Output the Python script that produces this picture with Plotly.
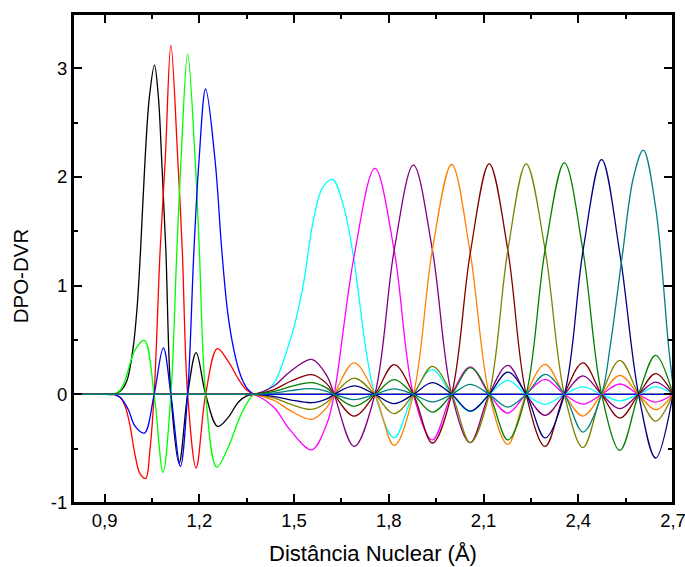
import plotly.graph_objects as go

# ---------------- data ----------------
# first group of DPO-DVR functions (nodes ~1.057, 1.110, 1.163, 1.220)
black_x = [0.80, 0.86, 0.90, 0.928, 0.95, 0.97, 0.99, 1.003, 1.014, 1.028, 1.042, 1.058, 1.070, 1.081, 1.094,
           1.110, 1.136, 1.163, 1.190, 1.220, 1.258, 1.292, 1.324, 1.350, 1.370, 1.40, 1.45, 2.70]
black_y = [0, 0, 0, 0, 0.03, 0.12, 0.42, 0.80, 1.33, 2.15, 2.74, 3.03, 2.75, 2.15, 1.33,
           0, -0.632, 0, 0.384, 0, -0.295, -0.21, -0.07, -0.015, 0, 0, 0, 0]

red_x = [0.80, 0.86, 0.90, 0.928, 0.95, 0.965, 0.98, 0.996, 1.012, 1.030, 1.044, 1.057, 1.076, 1.092, 1.110,
         1.132, 1.146, 1.163, 1.190, 1.220, 1.257, 1.292, 1.324, 1.350, 1.375, 1.40, 1.45, 2.70]
red_y = [0, 0, 0, 0, -0.03, -0.11, -0.28, -0.55, -0.73, -0.773, -0.50, 0, 1.33, 2.15, 3.21,
         2.15, 1.33, 0, -0.678, 0, 0.42, 0.30, 0.14, 0.04, 0, 0, 0, 0]

green_x = [0.80, 0.86, 0.90, 0.928, 0.95, 0.965, 0.996, 1.026, 1.057, 1.085, 1.110, 1.129, 1.142, 1.163,
           1.187, 1.200, 1.220, 1.255, 1.292, 1.324, 1.350, 1.372, 1.40, 1.45, 2.70]
green_y = [0, 0, 0, 0, 0.04, 0.13, 0.405, 0.497, 0, -0.718, 0, 1.33, 2.15, 3.13,
           2.15, 1.33, 0, -0.669, -0.485, -0.24, -0.086, 0, 0, 0, 0]

blue_x = [0.80, 0.86, 0.90, 0.928, 0.95, 0.975, 0.996, 1.026, 1.057, 1.086, 1.110, 1.140, 1.163, 1.183,
          1.199, 1.220, 1.250, 1.271, 1.290, 1.310, 1.330, 1.350, 1.375, 1.40, 1.45, 2.70]
blue_y = [0, 0, 0, 0, -0.03, -0.14, -0.29, -0.356, 0, 0.427, 0, -0.663, 0, 1.33,
          2.15, 2.81, 2.15, 1.33, 0.75, 0.40, 0.18, 0.06, 0, 0, 0, 0]

# second group of DPO-DVR functions, sampled at nodes and lobe extrema
grid2_x = [0.80, 1.30, 1.34, 1.37, 1.435, 1.488, 1.556, 1.604, 1.627, 1.69, 1.756, 1.817, 1.878, 1.938,
           1.999, 2.058, 2.118, 2.177, 2.235, 2.295, 2.356, 2.415, 2.474, 2.532, 2.591, 2.645, 2.70]

cyan_x = [0.80, 1.30, 1.34, 1.37, 1.41, 1.44, 1.477, 1.50, 1.53, 1.561, 1.59, 1.622, 1.655, 1.688, 1.728,
          1.756, 1.817, 1.878, 1.938, 1.999, 2.058, 2.118, 2.177, 2.235, 2.295, 2.356, 2.415,
          2.474, 2.532, 2.591, 2.645, 2.70]
cyan_y = [0, 0, 0, 0, 0.03, 0.12, 0.40, 0.62, 1.02, 1.60, 1.90, 1.977, 1.75, 1.27, 0.405,
          0, -0.40, 0, 0.227, 0, -0.157, 0, 0.129, 0, -0.092, 0, 0.068,
          0, -0.06, 0, 0.068, 0]

magenta_y = [0, 0, 0, 0, -0.117, -0.33, -0.51, -0.27, 0, 1.27, 2.08, 1.326, 0, -0.42,
             0, 0.252, 0, -0.172, 0, 0.138, 0, -0.09, 0, 0.095, 0, -0.071, 0]
purple_y = [0, 0, 0, 0, 0.074, 0.21, 0.322, 0.17, 0, -0.479, 0, 1.326, 2.11, 1.33,
            0, -0.445, 0, 0.267, 0, -0.193, 0, 0.17, 0, -0.132, 0, 0.113, 0]
orange_y = [0, 0, 0, 0, -0.053, -0.15, -0.23, -0.12, 0, 0.289, 0, -0.47, 0, 1.33,
            2.115, 1.30, 0, -0.46, 0, 0.276, 0, -0.20, 0, 0.175, 0, -0.141, 0]
darkred_y = [0, 0, 0, 0, 0.042, 0.118, 0.181, 0.096, 0, -0.20, 0, 0.273, 0, -0.448,
             0, 1.30, 2.12, 1.326, 0, -0.479, 0, 0.289, 0, -0.218, 0, 0.19, 0]
olive_y = [0, 0, 0, 0, -0.032, -0.09, -0.138, -0.073, 0, 0.15, 0, -0.178, 0, 0.258,
           0, -0.445, 0, 1.326, 2.12, 1.33, 0, -0.49, 0, 0.313, 0, -0.246, 0]
dgreen_y = [0, 0, 0, 0, 0.025, 0.07, 0.107, 0.057, 0, -0.11, 0, 0.135, 0, -0.163,
            0, 0.245, 0, -0.42, 0, 1.33, 2.13, 1.32, 0, -0.516, 0, 0.359, 0]
navy_y = [0, 0, 0, 0, -0.018, -0.05, -0.077, -0.041, 0, 0.077, 0, -0.086, 0, 0.107,
          0, -0.154, 0, 0.205, 0, -0.40, 0, 1.32, 2.16, 1.29, 0, -0.586, 0]

teal_x = [0.80, 1.30, 1.34, 1.37, 1.435, 1.488, 1.556, 1.604, 1.627, 1.69, 1.756, 1.817, 1.878, 1.938,
          1.999, 2.058, 2.118, 2.177, 2.235, 2.295, 2.356, 2.415, 2.474, 2.501, 2.540, 2.575,
          2.606, 2.645, 2.686, 2.70]
teal_y = [0, 0, 0, 0, 0.012, 0.034, 0.052, 0.028, 0, -0.049, 0, 0.05, 0, -0.07,
          0, 0.092, 0, -0.117, 0, 0.184, 0, -0.347, 0, 0.44, 1.29, 2.0,
          2.247, 1.72, 0.44, 0.08]

x_tickvals = [0.9, 1.2, 1.5, 1.8, 2.1, 2.4, 2.7]
x_ticktext = ["0,9", "1,2", "1,5", "1,8", "2,1", "2,4", "2,7"]
x_minorvals = [1.05, 1.35, 1.65, 1.95, 2.25, 2.55]
y_tickvals = [-1, 0, 1, 2, 3]
y_ticktext = ["-1", "0", "1", "2", "3"]
y_minorvals = [-0.5, 0.5, 1.5, 2.5]

# ---------------- figure ----------------
series = [
    (black_x, black_y, "#000000"),
    (red_x, red_y, "#FF0000"),
    (green_x, green_y, "#00FF00"),
    (blue_x, blue_y, "#0000FF"),
    (cyan_x, cyan_y, "#00FFFF"),
    (grid2_x, magenta_y, "#FF00FF"),
    (grid2_x, purple_y, "#800080"),
    (grid2_x, orange_y, "#FF8000"),
    (grid2_x, darkred_y, "#800000"),
    (grid2_x, olive_y, "#808000"),
    (grid2_x, dgreen_y, "#008000"),
    (grid2_x, navy_y, "#000080"),
    (teal_x, teal_y, "#008080"),
]

fig = go.Figure()
for xs, ys, col in series:
    fig.add_trace(go.Scatter(x=xs, y=ys, mode="lines",
                             line=dict(color=col, width=1.3, shape="spline", smoothing=1),
                             showlegend=False, hoverinfo="skip"))

font_family = "Liberation Sans, Arial, sans-serif"
fig.update_layout(
    width=685, height=567,
    margin=dict(l=73, r=12, t=14, b=64, autoexpand=False),
    paper_bgcolor="white", plot_bgcolor="white",
    font=dict(family=font_family, size=18.5, color="black"),
    showlegend=False,
)
axis_common = dict(showline=True, linecolor="black", linewidth=2, mirror="ticks",
                   ticks="inside", ticklen=9, tickwidth=1.5, tickcolor="black",
                   showgrid=False, zeroline=False, tickmode="array", automargin=False,
                   ticklabeloverflow="allow")
fig.update_xaxes(range=[0.8, 2.7], tickvals=x_tickvals, ticktext=x_ticktext,
                 minor=dict(ticks="inside", ticklen=5, tickwidth=1.5, tickcolor="black",
                            tickmode="array", tickvals=x_minorvals, showgrid=False),
                 title=dict(text="Distância Nuclear (Å)", font=dict(size=22), standoff=15),
                 **axis_common)
fig.update_yaxes(range=[-1, 3.5], tickvals=y_tickvals, ticktext=y_ticktext,
                 minor=dict(ticks="inside", ticklen=5, tickwidth=1.5, tickcolor="black",
                            tickmode="array", tickvals=y_minorvals, showgrid=False),
                 **axis_common)
# closed frame around the plotting area
fig.add_shape(type="rect", xref="paper", yref="paper", x0=0, x1=1, y0=0, y1=1,
              line=dict(color="black", width=2), layer="above")
fig.add_annotation(text="DPO-DVR", textangle=-90, xref="paper", yref="paper",
                   x=-0.088, y=0.464, xanchor="center", yanchor="middle",
                   showarrow=False, font=dict(size=20.5))

# remove the browser's default page margin so the figure fills the window exactly
fig.write_html("out.html",
               config={"displayModeBar": False},
               post_script="document.body.style.margin='0px';"
                           "document.body.style.overflow='hidden';")
